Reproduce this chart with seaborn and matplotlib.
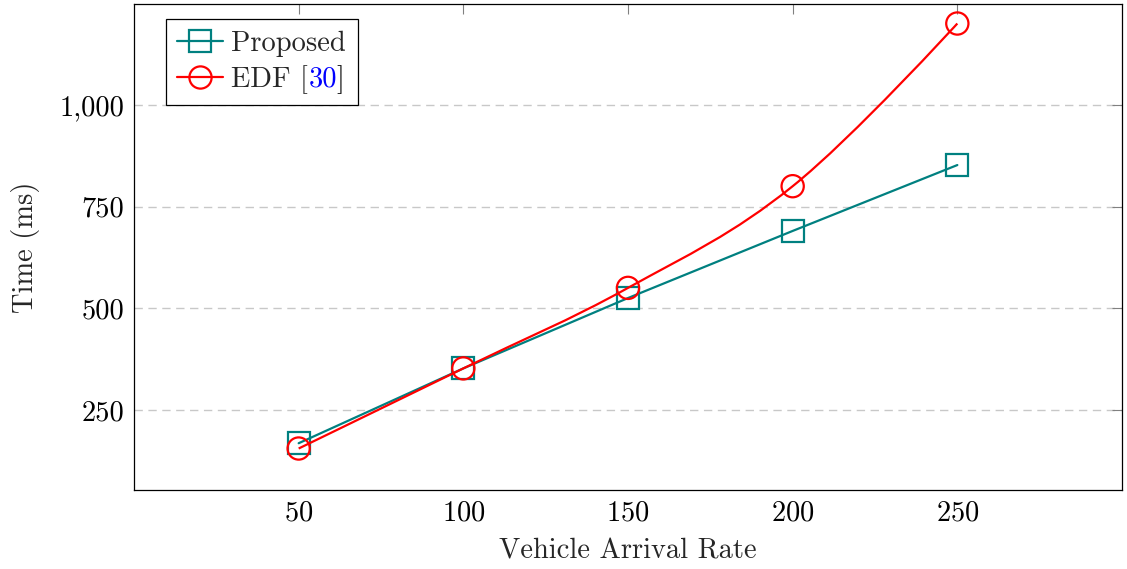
import numpy as np
import pandas as pd
import matplotlib
matplotlib.use("Agg")
import matplotlib.pyplot as plt
import seaborn as sns
from matplotlib.path import Path
from matplotlib.patches import PathPatch
from matplotlib.lines import Line2D
from matplotlib.ticker import FuncFormatter

# data
arrival_rate = [50, 100, 150, 200, 250]
proposed_ms = [168, 352, 525, 690, 852]
edf_ms = [155, 352, 550, 800, 1200]
y_ticks = [250, 500, 750, 1000]

teal = '#008080'
red = '#ff0000'

sns.set_style("white")
plt.rcParams['font.family'] = ['cmr10', 'DejaVu Serif']
plt.rcParams['mathtext.fontset'] = 'cm'
plt.rcParams['axes.formatter.use_mathtext'] = True
fs = 20.5

df = pd.DataFrame({'rate': arrival_rate, 'Proposed': proposed_ms, 'EDF': edf_ms})

fig = plt.figure(figsize=(11.27, 5.69), dpi=100)
ax = fig.add_axes([134/1127, 1 - 490/569, 988/1127, 486/569])

ax.grid(axis='y', color='#c8c8c8', linestyle=(0, (6, 4)), linewidth=1.0, zorder=0)
ax.set_axisbelow(True)

sns.lineplot(data=df, x='rate', y='Proposed', ax=ax, color=teal, lw=1.6,
             marker='s', markersize=16, markerfacecolor='none',
             markeredgecolor=teal, markeredgewidth=1.6, zorder=3)

# EDF drawn as a smooth curve (pgfplots "smooth" style, tension 0.55)
pts = np.column_stack([df['rate'], df['EDF']]).astype(float)
t = 0.55 / 3
n = len(pts)
verts = [pts[0]]
codes = [Path.MOVETO]
for i in range(n - 1):
    c1 = pts[i] + t * (pts[i + 1] - pts[i - 1]) if i > 0 else pts[i]
    c2 = pts[i + 1] - t * (pts[i + 2] - pts[i]) if i + 1 < n - 1 else pts[i + 1]
    verts += [c1, c2, pts[i + 1]]
    codes += [Path.CURVE4] * 3
ax.add_patch(PathPatch(Path(verts, codes), facecolor='none', edgecolor=red,
                       lw=1.6, zorder=4))
sns.scatterplot(data=df, x='rate', y='EDF', ax=ax, marker='o', s=16**2,
                facecolor='none', edgecolor=red, linewidth=1.6, zorder=5)

ax.set_xlim(0, 300)
ax.set_ylim(53, 1248)
ax.set_xticks(arrival_rate)
ax.set_yticks(y_ticks)
ax.yaxis.set_major_formatter(FuncFormatter(lambda v, p: f"{v:,.0f}"))
ax.tick_params(direction='in', length=7, width=0.8, color='#808080',
               top=True, right=True, labelsize=fs, labelcolor='black', pad=7)
for s in ax.spines.values():
    s.set_color('black')
    s.set_linewidth(0.9)

ax.set_xlabel('Vehicle Arrival Rate', fontsize=fs, labelpad=9)
ax.set_ylabel('Time (ms)', fontsize=fs, labelpad=14)

handles = [
    Line2D([], [], color=teal, lw=1.6, marker='s', markersize=16,
           markerfacecolor='none', markeredgewidth=1.6),
    Line2D([], [], color=red, lw=1.6, marker='o', markersize=16,
           markerfacecolor='none', markeredgewidth=1.6),
]
leg = ax.legend(handles, ['Proposed', 'EDF ['], loc='upper left',
                bbox_to_anchor=(0.0324, 0.969), borderaxespad=0, fontsize=fs,
                frameon=True, fancybox=False, framealpha=1, edgecolor='black',
                handlelength=1.6, handletextpad=0.3, labelspacing=0.28,
                borderpad=0.4)
leg.get_frame().set_linewidth(0.9)

# citation number in blue, placed on the legend text baseline
fig.canvas.draw()
renderer = fig.canvas.get_renderer()
edf_txt = leg.get_texts()[1]
bx, by = edf_txt.get_transform().transform(edf_txt.get_position())
x1 = edf_txt.get_window_extent(renderer).x1
inv = fig.transFigure.inverted()
fx, fy = inv.transform((x1, by))
num = fig.text(fx, fy, '30', color='blue', fontsize=fs, ha='left',
               va='baseline', zorder=10)
fig.canvas.draw()
x2 = num.get_window_extent(renderer).x1
gx, gy = inv.transform((x2, by))
fig.text(gx, gy, ']', color='black', fontsize=fs, ha='left', va='baseline',
         zorder=10)

fig.savefig('out.png', dpi=100)
